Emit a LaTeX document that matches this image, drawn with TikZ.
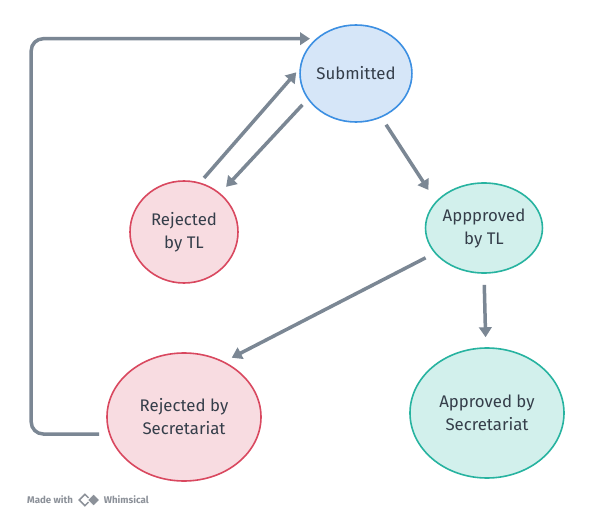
\documentclass[tikz,border=0pt]{standalone}
\usepackage{fontspec}
\setmainfont{Fira Sans}
\usetikzlibrary{shapes.geometric,arrows.meta,positioning}
\definecolor{edge}{HTML}{7B8794}
\definecolor{ink}{HTML}{353E4A}
\definecolor{subfill}{HTML}{D6E6F8}
\definecolor{subline}{HTML}{3C8FE2}
\definecolor{rejfill}{HTML}{F8DCE1}
\definecolor{rejline}{HTML}{D9485F}
\definecolor{appfill}{HTML}{D2F0EC}
\definecolor{appline}{HTML}{27B3A0}
\definecolor{foot}{HTML}{8C9199}

\begin{document}
\begin{tikzpicture}[x=1pt,y=-1pt,
    state/.style={ellipse,inner sep=0pt,line width=1.6pt,align=center,text=ink,font=\fontsize{16.8}{23}\selectfont},
    sent/.style={state,draw=subline,fill=subfill},
    rej/.style={state,draw=rejline,fill=rejfill},
    app/.style={state,draw=appline,fill=appfill},
    flow/.style={draw=edge,line width=3.5pt,-{Triangle[length=10pt,width=12.5pt]}},
    footnote/.style={font=\bfseries\fontsize{9.7}{10}\selectfont,text=foot,inner sep=0pt}]
    \fill[white] (0,0) rectangle (590,522);
    \useasboundingbox (0,0) rectangle (590,522);

    \node[sent,minimum width=108pt,minimum height=97pt] (sub) at (356,73.5) {Submitted};
    \node[rej,minimum width=108pt,minimum height=102pt] (rtl) at (184,232) {Rejected\\by TL};
    \node[app,minimum width=108pt,minimum height=90pt] (atl) at (484,228) {Appproved\\by TL};
    \node[rej,minimum width=154pt,minimum height=128pt] (rsec) at (184,417) {Rejected by\\Secretariat};
    \node[app,minimum width=154pt,minimum height=130pt] (asec) at (487,413) {Approved by\\Secretariat};

    \draw[flow,shorten <=6pt,shorten >=5pt] (rtl.72) -- (sub.175.6);
    \draw[flow,shorten <=7.6pt,shorten >=8.6pt] (sub.208.3) -- (rtl.47.7);
    \draw[flow,shorten <=8.5pt,shorten >=13.5pt] (sub.300) -- (atl.151.5);
    \draw[flow,shorten <=10pt,shorten >=8.4pt] (atl.207) -- (rsec.54.6);
    \draw[flow,shorten <=11pt,shorten >=10pt] (atl.270) -- (asec.91.5);
    \draw[flow,rounded corners=12pt] ([shift={(-7,17)}]rsec.west) -- ++(-68,0) |- ([shift={(-46,14.5)}]sub.north);

    \node[footnote,anchor=west] (made) at (27,500) {Made with};
    \node[diamond,draw=foot,line width=1.5pt,minimum size=12pt,inner sep=0pt,right=5pt of made] (logoa) {};
    \node[diamond,fill=foot,draw=white,line width=1pt,minimum size=13pt,inner sep=0pt,right=-5pt of logoa] (logob) {};
    \node[footnote,right=3pt of logob] (whim) {Whimsical};
\end{tikzpicture}
\end{document}
